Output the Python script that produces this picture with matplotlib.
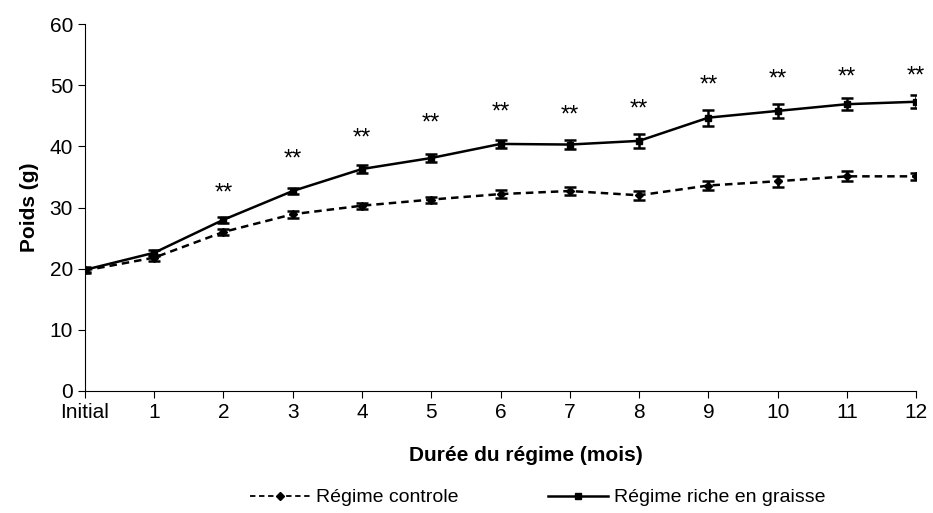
"""Poids des souris selon le régime"""

import matplotlib
matplotlib.use("Agg")
from matplotlib import pyplot as plt
from matplotlib.lines import Line2D

labels = ["Initial", "1", "2", "3", "4", "5", "6", "7", "8", "9", "10", "11", "12"]
controle = [19.7, 21.8, 26.0, 28.9, 30.3, 31.3, 32.2, 32.7, 32.0, 33.6, 34.3, 35.1, 35.1]
controle_err = [0.4, 0.5, 0.5, 0.6, 0.5, 0.5, 0.6, 0.6, 0.7, 0.8, 0.9, 0.8, 0.6]
graisse = [19.8, 22.6, 28.0, 32.7, 36.3, 38.1, 40.4, 40.3, 40.9, 44.7, 45.8, 46.9, 47.3]
graisse_err = [0.4, 0.5, 0.5, 0.5, 0.6, 0.6, 0.7, 0.8, 1.2, 1.3, 1.1, 1.0, 1.1]
star_y = [None, None, 32.3, 37.8, 41.3, 43.8, 45.6, 45.1, 46.0, 49.9, 51.0, 51.3, 51.4]

plt.rcParams["font.family"] = ["Liberation Sans", "DejaVu Sans"]

fig = plt.figure(figsize=(9.33, 5.13), dpi=100)
ax = fig.add_axes([0.091, 0.238, 0.891, 0.715])
x = list(range(len(labels)))

ax.errorbar(x, controle, yerr=controle_err, color="black", linestyle=(0, (3, 2)),
            linewidth=1.8, marker="D", markersize=4, capsize=4, capthick=1.8,
            elinewidth=1.8)
ax.errorbar(x, graisse, yerr=graisse_err, color="black", linestyle="-",
            linewidth=1.8, marker="s", markersize=5, capsize=4, capthick=1.8,
            elinewidth=1.8)

for xi, yi in zip(x, star_y):
    if yi is not None:
        ax.text(xi, yi, "**", ha="center", va="center", fontsize=17)

ax.set_xlim(0, 12)
ax.set_ylim(0, 60)
ax.set_yticks(range(0, 61, 10))
ax.set_xticks(x)
ax.set_xticklabels(labels)
ax.spines["top"].set_visible(False)
ax.spines["right"].set_visible(False)
ax.tick_params(axis="both", direction="out", labelsize=15, length=5)
ax.set_xlabel("Durée du régime (mois)", fontsize=15, fontweight="bold", labelpad=8)
ax.xaxis.set_label_coords(0.53, -0.15)
ax.set_ylabel("Poids (g)", fontsize=15, fontweight="bold", labelpad=8)

handles = [
    Line2D([], [], color="black", linestyle=(0, (3, 2)), linewidth=1.3,
           marker="D", markersize=4),
    Line2D([], [], color="black", linestyle="-", linewidth=1.8,
           marker="s", markersize=5),
]
fig.legend(handles, ["Régime controle", "Régime riche en graisse"],
           loc="center", bbox_to_anchor=(0.576, 0.03), ncol=2, frameon=False,
           fontsize=14, handlelength=3.1, handletextpad=0.3, columnspacing=4.6)

fig.savefig("out.png", dpi=100)
